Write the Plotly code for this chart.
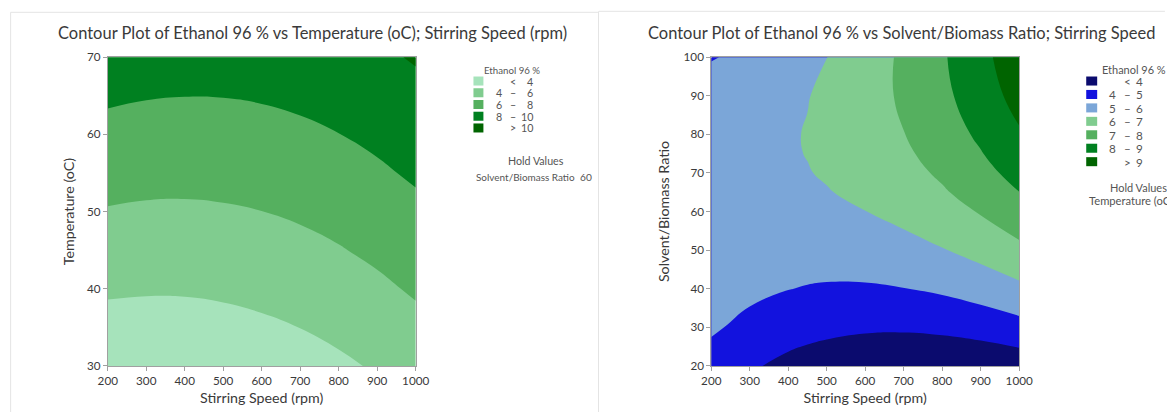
import plotly.graph_objects as go

# Grid of the fitted response (Ethanol 96 %) over the design factors
speed_rpm = [200, 300, 400, 500, 600, 700, 800, 900, 1000]
temperature_oc = [30, 35, 40, 45, 50, 55, 60, 65, 70]
ratio_speed_rpm = [200, 300, 400, 450, 500, 600, 700, 800, 900, 1000]
solvent_ratio = [20, 30, 40, 50, 60, 65, 70, 75, 80, 90, 100]

# rows: temperature, columns: stirring speed (solvent/biomass ratio held at 60)
ethanol_temp_speed = [
    [2.53, 2.49, 2.54, 2.68, 2.92, 3.25, 3.68, 4.19, 4.80],
    [3.39, 3.33, 3.36, 3.49, 3.71, 4.02, 4.43, 4.93, 5.52],
    [4.24, 4.16, 4.17, 4.28, 4.49, 4.78, 5.17, 5.65, 6.22],
    [5.07, 4.97, 4.97, 5.06, 5.25, 5.52, 5.89, 6.36, 6.91],
    [5.89, 5.77, 5.75, 5.83, 5.99, 6.25, 6.61, 7.05, 7.59],
    [6.69, 6.56, 6.52, 6.58, 6.73, 6.97, 7.30, 7.73, 8.25],
    [7.48, 7.33, 7.28, 7.31, 7.44, 7.67, 7.98, 8.39, 8.90],
    [8.26, 8.09, 8.02, 8.04, 8.15, 8.35, 8.65, 9.04, 9.53],
    [9.02, 8.83, 8.74, 8.74, 8.84, 9.02, 9.31, 9.68, 10.15],
]

# rows: solvent/biomass ratio, columns: stirring speed (temperature held)
ethanol_ratio_speed = [
    [4.61, 4.13, 3.74, 3.58, 3.45, 3.25, 3.15, 3.14, 3.23, 3.41],
    [5.13, 4.74, 4.45, 4.34, 4.25, 4.14, 4.13, 4.22, 4.40, 4.67],
    [5.52, 5.22, 5.02, 4.95, 4.91, 4.90, 4.98, 5.15, 5.43, 5.79],
    [5.77, 5.56, 5.45, 5.43, 5.43, 5.51, 5.69, 5.95, 6.32, 6.78],
    [5.88, 5.76, 5.74, 5.77, 5.82, 5.99, 6.26, 6.62, 7.07, 7.62],
    [5.88, 5.81, 5.84, 5.89, 5.96, 6.18, 6.49, 6.90, 7.40, 7.99],
    [5.85, 5.83, 5.90, 5.97, 6.07, 6.33, 6.69, 7.14, 7.69, 8.33],
    [5.79, 5.81, 5.93, 6.02, 6.14, 6.45, 6.85, 7.35, 7.95, 8.63],
    [5.69, 5.76, 5.92, 6.04, 6.18, 6.54, 6.98, 7.53, 8.17, 8.90],
    [5.39, 5.55, 5.80, 5.97, 6.16, 6.60, 7.14, 7.78, 8.51, 9.34],
    [4.95, 5.20, 5.55, 5.76, 5.99, 6.53, 7.16, 7.89, 8.71, 9.63],
]

temp_levels = [4, 6, 8, 10]
ratio_levels = [4, 5, 6, 7, 8, 9]

temp_colors = ["#a6e3bb", "#80cc8f", "#55b05f", "#008020", "#006400"]
ratio_colors = ["#0b0b6e", "#1212de", "#7ba6d8", "#80cc8f", "#55b05f", "#008020", "#006400"]

temp_legend = [("", "<", "4"), ("4", "–", "6"), ("6", "–", "8"), ("8", "–", "10"), ("", ">", "10")]
ratio_legend = [("", "<", "4"), ("4", "–", "5"), ("5", "–", "6"), ("6", "–", "7"),
                ("7", "–", "8"), ("8", "–", "9"), ("", ">", "9")]

# figure size; the div sits inside the body's default 8px margin
BODY = 8
W, H = 1167, 412
# layout positions below are given in the final view, which is the page
# scaled by these factors
KX, KY = 0.983, 0.963
FS = 1 / KX
FONT = "Segoe UI, Lato, Open Sans, sans-serif"
TEXT = "#3a3a3a"
LEG = "#555555"


def px(x):
    return (x / KX - BODY) / W


def py(y):
    return 1 - (y / KY - BODY) / H


def band_scale(colors):
    n = len(colors) - 1
    return [[i / n, c] for i, c in enumerate(colors)]


fig = go.Figure()

fig.add_trace(go.Contour(
    x=speed_rpm, y=temperature_oc, z=ethanol_temp_speed,
    xaxis="x", yaxis="y",
    contours=dict(start=temp_levels[0], end=temp_levels[-1],
                  size=temp_levels[1] - temp_levels[0], coloring="fill"),
    colorscale=band_scale(temp_colors),
    line=dict(width=0, smoothing=1.3),
    showscale=False, hoverinfo="skip",
))

fig.add_trace(go.Contour(
    x=ratio_speed_rpm, y=solvent_ratio, z=ethanol_ratio_speed,
    xaxis="x2", yaxis="y2",
    contours=dict(start=ratio_levels[0], end=ratio_levels[-1],
                  size=ratio_levels[1] - ratio_levels[0], coloring="fill"),
    colorscale=band_scale(ratio_colors),
    line=dict(width=0, smoothing=1.3),
    showscale=False, hoverinfo="skip",
))

axis_common = dict(
    showgrid=False, zeroline=False, showline=True, mirror=True,
    linecolor="#a0a0a0", linewidth=1,
    ticks="outside", ticklen=4, tickcolor="#a0a0a0",
    tickfont=dict(family=FONT, size=11.5 * FS, color=TEXT),
    title_font=dict(family=FONT, size=14 * FS, color=TEXT),
)

fig.update_layout(
    width=W, height=H,
    margin=dict(l=0, r=0, t=0, b=0),
    paper_bgcolor="white", plot_bgcolor="white",
    showlegend=False,
    xaxis=dict(domain=[px(106), px(415)], range=[200, 1000], anchor="y",
               tickvals=speed_rpm, title=dict(text="Stirring Speed (rpm)", standoff=7),
               **axis_common),
    yaxis=dict(domain=[py(364.5), py(56.7)], range=[30, 70], anchor="x",
               tickvals=[30, 40, 50, 60, 70], title=dict(text="Temperature (oC)", standoff=8),
               **axis_common),
    xaxis2=dict(domain=[px(711.7), px(1020.7)], range=[200, 1000], anchor="y2",
                tickvals=speed_rpm, title=dict(text="Stirring Speed (rpm)", standoff=7),
                **axis_common),
    yaxis2=dict(domain=[py(364.5), py(56.7)], range=[20, 100], anchor="x2",
                tickvals=[20, 30, 40, 50, 60, 70, 80, 90, 100],
                title=dict(text="Solvent/Biomass Ratio", standoff=10),
                **axis_common),
)

shapes = []
annotations = []


def label(x, y, text, size, anchor="left", color=TEXT):
    annotations.append(dict(
        x=px(x), y=py(y), xref="paper", yref="paper", text=text, showarrow=False,
        xanchor=anchor, yanchor="middle", font=dict(family=FONT, size=size * FS, color=color),
    ))


# panel frames
frame = "#e4e4e4"
for x0, x1, y0 in [(8.5, 598, 12), (599, 1167, 11)]:
    shapes.append(dict(type="line", xref="paper", yref="paper",
                       x0=px(x0), x1=px(x1), y0=py(y0), y1=py(y0),
                       line=dict(color=frame, width=1)))
for x0, y0 in [(8.5, 12), (598.5, 11)]:
    shapes.append(dict(type="line", xref="paper", yref="paper",
                       x0=px(x0), x1=px(x0), y0=py(y0), y1=py(412),
                       line=dict(color=frame, width=1)))

# titles
label(311, 33, "Contour Plot of Ethanol 96 % vs Temperature (oC); Stirring Speed (rpm)", 16.2, "center")
label(903, 33, "Contour Plot of Ethanol 96 % vs Solvent/Biomass Ratio; Stirring Speed", 16.2, "center")

# legend of the temperature panel
label(512, 70, "Ethanol 96 %", 9.5, "center", LEG)
for i, (lo, sep, hi) in enumerate(temp_legend):
    yc = 80.5 + 11.7 * i
    shapes.append(dict(type="rect", xref="paper", yref="paper",
                       x0=px(473), x1=px(483), y0=py(yc + 4.5), y1=py(yc - 4.5),
                       fillcolor=temp_colors[i], line=dict(width=0)))
    if lo:
        label(504, yc, lo, 10.5, "right", LEG)
    label(513, yc, sep, 10.5, "center", LEG)
    label(535, yc, hi, 10.5, "right", LEG)
label(536, 160, "Hold Values", 10.5, "center", LEG)
label(474, 176, "Solvent/Biomass Ratio", 9.8, "left", LEG)
label(594, 176, "60", 10, "right", LEG)

# legend of the ratio panel
label(1102, 69, "Ethanol 96 %", 10.8, "left", LEG)
for i, (lo, sep, hi) in enumerate(ratio_legend):
    yc = 80.5 + 13.4 * i
    shapes.append(dict(type="rect", xref="paper", yref="paper",
                       x0=px(1088), x1=px(1099), y0=py(yc + 4.5), y1=py(yc - 4.5),
                       fillcolor=ratio_colors[i], line=dict(width=0)))
    if lo:
        label(1120, yc, lo, 11.5, "right", LEG)
    label(1129, yc, sep, 11.5, "center", LEG)
    label(1147, yc, hi, 11.5, "right", LEG)
label(1110, 186.5, "Hold Values", 10.8, "left", LEG)
label(1089, 200, "Temperature (oC)", 11, "left", LEG)

fig.update_layout(shapes=shapes, annotations=annotations)

fig.write_html("out.html")
